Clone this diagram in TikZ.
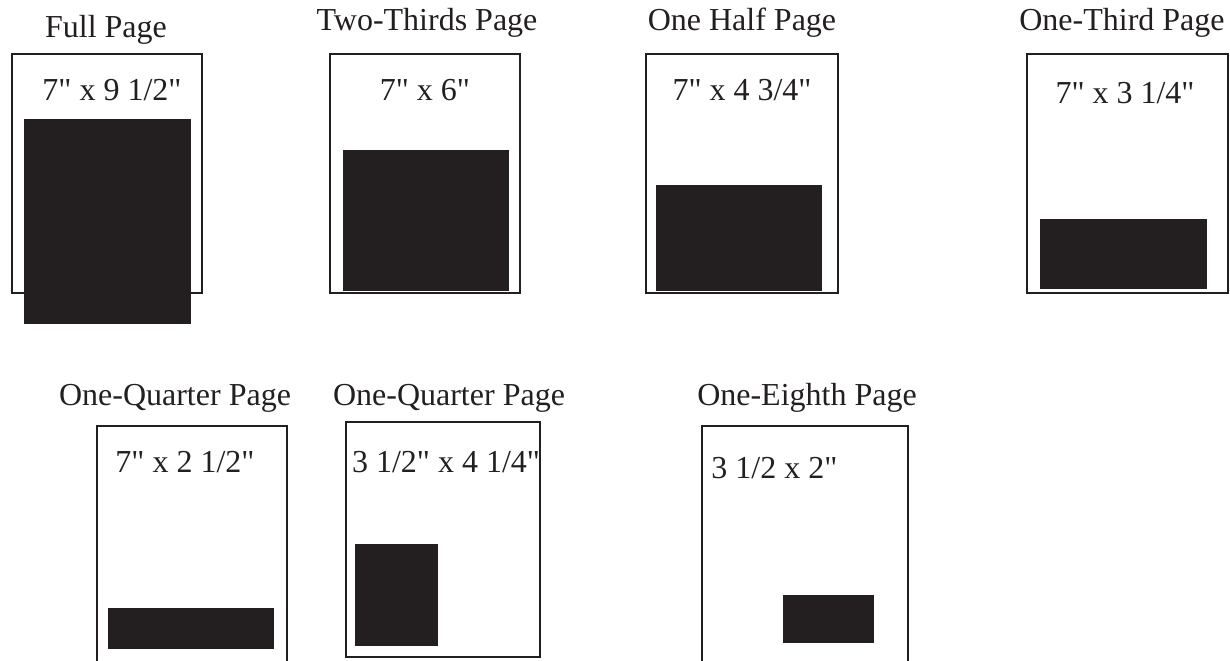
\documentclass[tikz,border=0pt]{standalone}
\usepackage{fontspec}
\defaultfontfeatures[\rmfamily]{}
\setmainfont{Liberation Serif}
\newfontfamily\adfont{Liberation Serif}
\definecolor{adInk}{HTML}{231F20}
\tikzset{
  adfig/.style={
    x=0.5pt, y=-0.5pt,
    every node/.append style={font=\adfont\fontsize{16}{19}\selectfont, inner sep=0pt, text=adInk},
  },
  pageframe/.style={draw=adInk, line width=1.3pt},
  adblock/.style={fill=adInk},
  pagelabel/.style={anchor=base},
  sizelabel/.style={anchor=base},
  sizeleft/.style={anchor=base west},
}

\begin{document}
\begin{tikzpicture}[adfig]
  \useasboundingbox (0,0) rectangle (1230,660);
  % top row: full-width ads
  \draw[pageframe] (12,54) rectangle (202,293);
  \fill[adblock] (24,119) rectangle (191,324);
  \node[pagelabel] (fullLbl) at (106,37) {Full Page};
  \node[sizelabel] (fullSize) at (112,100) {7" x 9 1/2"};

  \draw[pageframe] (330,54) rectangle (520,293);
  \fill[adblock] (343,150) rectangle (509,291);
  \node[pagelabel] (twoLbl) at (427,30) {Two-Thirds Page};
  \node[sizelabel] (twoSize) at (425,100) {7" x 6"};

  \draw[pageframe] (646,54) rectangle (838,293);
  \fill[adblock] (656,185) rectangle (822,291);
  \node[pagelabel] (halfLbl) at (742,30) {One Half Page};
  \node[sizelabel] (halfSize) at (742,100) {7" x 4 3/4"};

  \draw[pageframe] (1027,54) rectangle (1228,293);
  \fill[adblock] (1040,219) rectangle (1207,289);
  \node[pagelabel] (thirdLbl) at (1122,30) {One-Third Page};
  \node[sizelabel] (thirdSize) at (1125,103) {7" x 3 1/4"};

  % bottom row
  \draw[pageframe] (97,662) |- (287,426) -- (287,662);
  \fill[adblock] (108,608) rectangle (274,649);
  \node[pagelabel] (quarterLbl) at (175,405) {One-Quarter Page};
  \node[sizelabel] (quarterSize) at (185,472) {7" x 2 1/2"};

  \draw[pageframe] (346,422) rectangle (540,657);
  \fill[adblock] (355,544) rectangle (438,646);
  \node[pagelabel] (quarterBLbl) at (449,405) {One-Quarter Page};
  \node[sizelabel] (quarterBSize) at (446,472) {3 1/2" x 4 1/4"};

  \draw[pageframe] (702,662) |- (908,426) -- (908,662);
  \fill[adblock] (783,595) rectangle (874,643);
  \node[pagelabel] (eighthLbl) at (807,405) {One-Eighth Page};
  \node[sizeleft] (eighthSize) at (711,478) {3 1/2 x 2"};
\end{tikzpicture}
\end{document}
